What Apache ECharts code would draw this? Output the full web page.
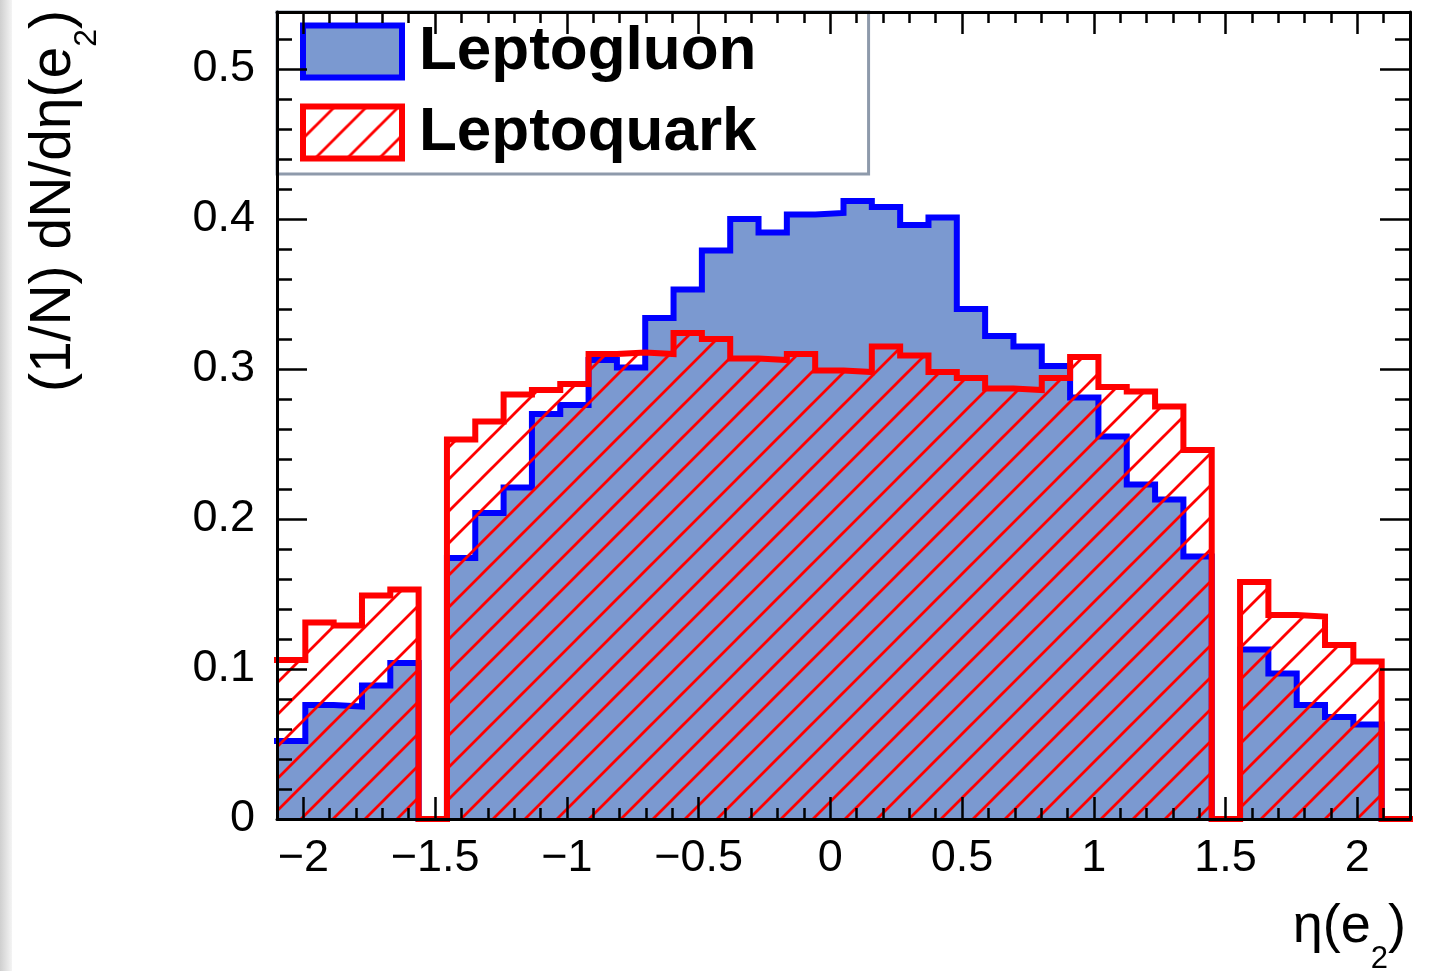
<!DOCTYPE html>
<html>
<head>
<meta charset="utf-8">
<script src="https://cdn.jsdelivr.net/npm/echarts@6/dist/echarts.min.js"></script>
<style>
html,body{margin:0;padding:0;background:#fff;}
#c{width:1433px;height:971px;}
</style>
</head>
<body>
<div id="c"></div>
<script>
// ---- data ----
const binEdges = [-2.1, -1.9925, -1.885, -1.7775, -1.67, -1.5625, -1.455, -1.3475, -1.24, -1.1325,
  -1.025, -0.9175, -0.81, -0.7025, -0.595, -0.4875, -0.38, -0.2725, -0.165, -0.0575,
  0.05, 0.1575, 0.265, 0.3725, 0.48, 0.5875, 0.695, 0.8025, 0.91, 1.0175,
  1.125, 1.2325, 1.34, 1.4475, 1.555, 1.6625, 1.77, 1.8775, 1.985, 2.0925, 2.2];

const leptogluon = [0.052, 0.076, 0.075, 0.089, 0.104, 0, 0.174, 0.204, 0.221, 0.270,
  0.276, 0.306, 0.301, 0.334, 0.353, 0.379, 0.400, 0.391, 0.403, 0.404,
  0.412, 0.408, 0.396, 0.401, 0.340, 0.322, 0.315, 0.302, 0.281, 0.255,
  0.223, 0.213, 0.175, 0, 0.113, 0.097, 0.076, 0.068, 0.063, 0];

const leptoquark = [0.106, 0.131, 0.129, 0.149, 0.153, 0, 0.253, 0.265, 0.283, 0.286,
  0.290, 0.310, 0.311, 0.310, 0.324, 0.320, 0.307, 0.306, 0.310, 0.299,
  0.298, 0.315, 0.309, 0.298, 0.294, 0.287, 0.286, 0.294, 0.308, 0.288,
  0.285, 0.275, 0.246, 0, 0.158, 0.136, 0.135, 0.116, 0.105, 0];

const xMajorTicks = [-2, -1.5, -1, -0.5, 0, 0.5, 1, 1.5, 2];
const xMinorTicks = [-2, -1.9, -1.8, -1.7, -1.6, -1.5, -1.4, -1.3, -1.2, -1.1, -1, -0.9, -0.8, -0.7, -0.6,
  -0.5, -0.4, -0.3, -0.2, -0.1, 0, 0.1, 0.2, 0.3, 0.4, 0.5, 0.6, 0.7, 0.8, 0.9, 1, 1.1, 1.2, 1.3,
  1.4, 1.5, 1.6, 1.7, 1.8, 1.9, 2, 2.1];
const yMajorTicks = [0, 0.1, 0.2, 0.3, 0.4, 0.5];
const yMinorTicks = [0.02, 0.04, 0.06, 0.08, 0.1, 0.12, 0.14, 0.16, 0.18, 0.2, 0.22, 0.24, 0.26, 0.28,
  0.3, 0.32, 0.34, 0.36, 0.38, 0.4, 0.42, 0.44, 0.46, 0.48, 0.5, 0.52];

const seriesNames = ['Leptogluon', 'Leptoquark'];
const xTitle = ['\u03b7(e', '2', ')'];
const yTitle = ['(1/N) dN/d\u03b7(e', '2', ')'];

// ---- helpers ----
function stepData(vals) {
  return binEdges.map((e, i) => [e, vals[Math.min(i, vals.length - 1)]]);
}
function makeHatch() {
  const s = 32;
  const cv = document.createElement('canvas');
  cv.width = s; cv.height = s;
  const ctx = cv.getContext('2d');
  ctx.strokeStyle = '#ff0000';
  ctx.lineWidth = 2.8;
  ctx.beginPath();
  ctx.moveTo(-s / 2, s / 2); ctx.lineTo(s / 2, -s / 2);
  ctx.moveTo(0, s); ctx.lineTo(s, 0);
  ctx.moveTo(s / 2, s * 1.5); ctx.lineTo(s * 1.5, s / 2);
  ctx.stroke();
  return { image: cv, repeat: 'repeat' };
}
const hatch = makeHatch();
const FONT = '"Liberation Sans", Arial, Helvetica, sans-serif';
const minusFmt = v => (v === 0 ? '0' : String(v).replace('-', '\u2212'));

function xAx(position, ticks, len, label, line) {
  return {
    type: 'value', min: -2.1, max: 2.2, position: position, z: 10,
    axisLine: { show: line, onZero: false, lineStyle: { color: '#000', width: 3 } },
    axisTick: { show: true, inside: true, length: len, customValues: ticks, lineStyle: { color: '#000', width: 2.5 } },
    axisLabel: label ? { show: true, customValues: ticks, formatter: minusFmt, fontSize: 45, color: '#000', fontFamily: FONT, margin: 17 } : { show: false },
    splitLine: { show: false }
  };
}
function yAx(position, ticks, len, label, line) {
  return {
    type: 'value', min: 0, max: 0.538, position: position, z: 10,
    axisLine: { show: line, onZero: false, lineStyle: { color: '#000', width: 3 } },
    axisTick: { show: true, inside: true, length: len, customValues: ticks, lineStyle: { color: '#000', width: 2.5 } },
    axisLabel: label ? { show: true, customValues: ticks, formatter: v => String(v), fontSize: 45, color: '#000', fontFamily: FONT, margin: 22 } : { show: false },
    splitLine: { show: false }
  };
}

const chart = echarts.init(document.getElementById('c'), null, { renderer: 'canvas' });
chart.setOption({
  animation: false,
  backgroundColor: '#ffffff',
  grid: { left: 277, top: 12, width: 1133, height: 807 },
  xAxis: [
    xAx('bottom', xMajorTicks, 22, true, true),
    xAx('bottom', xMinorTicks, 11, false, false),
    xAx('top', xMajorTicks, 22, false, true),
    xAx('top', xMinorTicks, 11, false, false)
  ],
  yAxis: [
    yAx('left', yMajorTicks, 30, true, true),
    yAx('left', yMinorTicks, 15, false, false),
    yAx('right', yMajorTicks, 30, false, true),
    yAx('right', yMinorTicks, 15, false, false)
  ],
  legend: {
    left: 277, top: 12, orient: 'vertical', selectedMode: false,
    padding: [8.5, 112, 10.5, 23],
    backgroundColor: '#ffffff', borderColor: '#8e9aab', borderWidth: 3, borderRadius: 0,
    itemWidth: 99, itemHeight: 52, itemGap: 19,
    textStyle: { fontSize: 62, fontWeight: 'bold', color: '#000', fontFamily: FONT, padding: [0, 0, 0, 12] },
    data: [
      { name: seriesNames[0], icon: 'rect', itemStyle: { color: '#7b99d0', borderColor: '#0000ff', borderWidth: 6 } },
      { name: seriesNames[1], icon: 'rect', itemStyle: { color: hatch, borderColor: '#ff0000', borderWidth: 6 } }
    ]
  },
  graphic: [
    { type: 'rect', left: 0, top: 0, z: -10, shape: { width: 12, height: 971 },
      style: { fill: new echarts.graphic.LinearGradient(0, 0, 1, 0, [{ offset: 0, color: '#cfcfcf' }, { offset: 1, color: '#f4f4f4' }]) } },
    { type: 'text', x: 1406, y: 927, z: 20,
      style: { text: '{a|' + xTitle[0] + '}{s|' + xTitle[1] + '}{a|' + xTitle[2] + '}', align: 'right', verticalAlign: 'middle',
        rich: { a: { fontSize: 54, fontFamily: FONT, fill: '#000' }, s: { fontSize: 31, fontFamily: FONT, fill: '#000', padding: [64, 0, 0, 0] } } } },
    { type: 'text', x: 54, y: 10, rotation: Math.PI / 2, z: 20,
      style: { text: '{a|' + yTitle[0] + '}{s|' + yTitle[1] + '}{a|' + yTitle[2] + '}', align: 'right', verticalAlign: 'middle',
        rich: { a: { fontSize: 57, fontFamily: FONT, fill: '#000' }, s: { fontSize: 32, fontFamily: FONT, fill: '#000', padding: [66, 0, 0, 0] } } } }
  ],
  series: [
    { type: 'line', name: seriesNames[0], xAxisIndex: 0, yAxisIndex: 0, data: stepData(leptogluon), step: 'end',
      symbol: 'none', showSymbol: false, z: 2,
      itemStyle: { color: '#0000ff' },
      lineStyle: { color: '#0000ff', width: 6, join: 'miter', cap: 'square' },
      areaStyle: { color: '#7b99d0', opacity: 1 } },
    { type: 'line', name: seriesNames[1], xAxisIndex: 0, yAxisIndex: 0, data: stepData(leptoquark), step: 'end',
      symbol: 'none', showSymbol: false, z: 3,
      itemStyle: { color: '#ff0000' },
      lineStyle: { color: '#ff0000', width: 6, join: 'miter', cap: 'square' },
      areaStyle: { color: hatch, opacity: 1 } }
  ]
});
</script>
</body>
</html>
